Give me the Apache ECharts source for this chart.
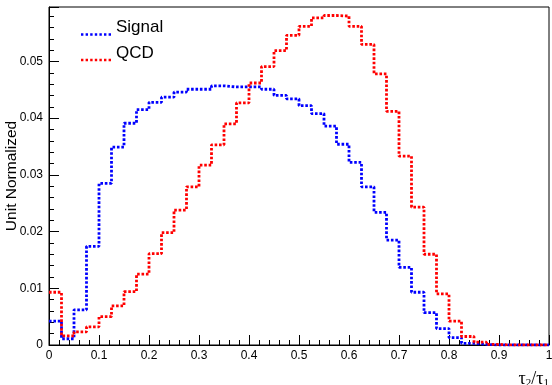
<!DOCTYPE html>
<html>
<head>
<meta charset="utf-8">
<script src="https://cdn.jsdelivr.net/npm/echarts@6/dist/echarts.min.js"></script>
<style>
  html, body { margin: 0; padding: 0; background: #fff; }
  #chart { width: 552px; height: 385px; }
</style>
</head>
<body>
<div id="chart"></div>
<script>
// lower edges of the 40 bins, last entry closes the histogram
const binEdges = [
  0, 0.025, 0.05, 0.075, 0.1, 0.125, 0.15, 0.175, 0.2, 0.225,
  0.25, 0.275, 0.3, 0.325, 0.35, 0.375, 0.4, 0.425, 0.45, 0.475,
  0.5, 0.525, 0.55, 0.575, 0.6, 0.625, 0.65, 0.675, 0.7, 0.725,
  0.75, 0.775, 0.8, 0.825, 0.85, 0.875, 0.9, 0.925, 0.95, 0.975, 1
];

const signal = [
  0.0042, 0.0011, 0.0062, 0.0174, 0.0285, 0.0349, 0.0391, 0.0415, 0.0428, 0.0437,
  0.0446, 0.0451, 0.0451, 0.0457, 0.0455, 0.0455, 0.0455, 0.0451, 0.0440, 0.0434,
  0.0422, 0.0408, 0.0386, 0.0354, 0.0322, 0.0279, 0.0234, 0.0185, 0.0137, 0.0093,
  0.0057, 0.0029, 0.0013, 0.0003, 0.0001, 0, 0, 0, 0, 0
];

const qcd = [
  0.0093, 0.0016, 0.0023, 0.0032, 0.0050, 0.0069, 0.0094, 0.0125, 0.0161, 0.0198,
  0.0238, 0.0279, 0.0317, 0.0353, 0.0390, 0.0427, 0.0462, 0.0491, 0.0519, 0.0546,
  0.0562, 0.0577, 0.0581, 0.0580, 0.0562, 0.0530, 0.0478, 0.0412, 0.0333, 0.0243,
  0.0160, 0.0090, 0.0042, 0.0015, 0.0005, 0.0001, 0, 0, 0, 0
];

const seriesNames = ['Signal', 'QCD'];
const seriesColors = ['#0000ff', '#ff0000'];

function histPoints(vals) {
  const pts = vals.map((v, i) => [binEdges[i], v]);
  pts.push([binEdges[vals.length], vals[vals.length - 1]]);
  return pts;
}

// dotted-line legend marker, dots sit low so they line up with the text baseline
let dotIcon = 'path://M0,0L0,0';
for (let i = 0; i < 7; i++) {
  const x = (i * 4.6).toFixed(1);
  dotIcon += ' M' + x + ',14h2.4v2.4h-2.4z';
}

const font = 'Liberation Sans, Arial, sans-serif';
const chart = echarts.init(document.getElementById('chart'));

chart.setOption({
  animation: false,
  grid: {
    left: 49, right: 3, top: 7, bottom: 40,
    show: true, borderColor: '#000', borderWidth: 1,
    outerBoundsMode: 'none'
  },
  legend: {
    orient: 'vertical',
    left: 76, top: 14,
    itemWidth: 30, itemHeight: 16.4,
    itemGap: 8.5,
    icon: dotIcon,
    data: seriesNames,
    textStyle: { fontFamily: font, fontSize: 17, color: '#000' }
  },
  xAxis: {
    type: 'value',
    min: 0, max: 1, interval: 0.1,
    name: 'τ{s|2}/τ{s|1}',
    nameLocation: 'end',
    nameGap: 0,
    nameTextStyle: {
      fontFamily: 'Liberation Serif, serif', fontSize: 18, color: '#000',
      align: 'right', verticalAlign: 'top', padding: [24, 0, 0, 0],
      rich: { s: { fontFamily: 'Liberation Serif, serif', fontSize: 11, padding: [9, 0, 0, 0], color: '#000' } }
    },
    axisLine: { lineStyle: { color: '#000', width: 1 } },
    axisTick: { inside: true, length: 10, lineStyle: { color: '#000' } },
    minorTick: { show: true, splitNumber: 5, length: 5, lineStyle: { color: '#000' } },
    splitLine: { show: false },
    axisLabel: { fontFamily: font, fontSize: 12, color: '#000', margin: 5 }
  },
  yAxis: {
    type: 'value',
    min: 0, max: 0.0596, interval: 0.01,
    name: 'Unit Normalized',
    nameLocation: 'middle',
    nameGap: 29,
    nameMoveOverlap: false,
    nameTextStyle: { fontFamily: font, fontSize: 15.5, color: '#000' },
    axisLine: { show: true, lineStyle: { color: '#000', width: 1 } },
    axisTick: { inside: true, length: 10, lineStyle: { color: '#000' } },
    minorTick: { show: true, splitNumber: 5, length: 5, lineStyle: { color: '#000' } },
    splitLine: { show: false },
    axisLabel: { fontFamily: font, fontSize: 12, color: '#000', margin: 6, showMaxLabel: false }
  },
  series: [signal, qcd].map((vals, k) => ({
    name: seriesNames[k],
    type: 'line',
    step: 'end',
    symbol: 'none',
    color: seriesColors[k],
    lineStyle: { color: seriesColors[k], width: 2.8, type: [2.6, 1.8] },
    data: histPoints(vals)
  }))
});
</script>
</body>
</html>
